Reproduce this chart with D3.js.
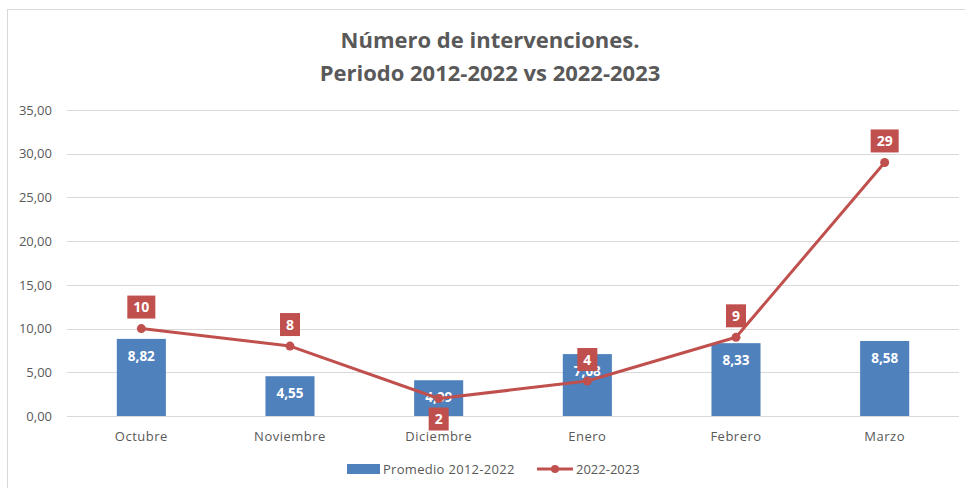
<!DOCTYPE html>
<html lang="es">
<head>
    <meta charset="UTF-8">
    <title>Número de intervenciones</title>
    <script src="https://d3js.org/d3.v7.min.js"></script>
    <style>
        body { margin: 0; background: #fff; font-family: "Open Sans", Arial, sans-serif; }
        .grid line { stroke: #d9d9d9; stroke-width: 1; }
        .axis text { fill: #595959; font-size: 13px; font-family: "Open Sans", Arial, sans-serif; }
        .title { fill: #595959; font-size: 22px; font-weight: bold; }
        .bar-label { fill: #fff; font-size: 13.5px; font-weight: bold; }
        .line-label { fill: #fff; font-size: 14px; font-weight: bold; }
        .legend text { fill: #595959; font-size: 13px; }
    </style>
</head>
<body>
<div id="chart"></div>
<script>
    // data
    const months = ["Octubre", "Noviembre", "Diciembre", "Enero", "Febrero", "Marzo"];
    const promedio = [8.82, 4.55, 4.09, 7.08, 8.33, 8.58];
    const actual = [10, 8, 2, 4, 9, 29];
    const yTicks = [0, 5, 10, 15, 20, 25, 30, 35];
    const labelSide = ["above", "above", "below", "above", "above", "above"];

    const W = 965, H = 488;
    const margin = { top: 110, right: 6, bottom: 72, left: 67 };
    const width = W - margin.left - margin.right;
    const height = H - margin.top - margin.bottom;

    const blue = "#4f81bd", red = "#c0504d";
    const comma = d3.formatLocale({ decimal: ",", thousands: ".", grouping: [3], currency: ["", "€"] });
    const fmt2 = comma.format(".2f");

    const svg = d3.select("#chart").append("svg")
        .attr("width", W)
        .attr("height", H);

    // chart frame
    svg.append("rect")
        .attr("x", 7.5).attr("y", 9.5)
        .attr("width", W + 20).attr("height", H + 20)
        .attr("fill", "none").attr("stroke", "#d9d9d9");

    // title
    const title = svg.append("text").attr("class", "title").attr("text-anchor", "middle");
    title.append("tspan").attr("x", 490).attr("y", 48).text("Número de intervenciones.");
    title.append("tspan").attr("x", 490).attr("y", 81).text("Periodo 2012-2022 vs 2022-2023");

    const g = svg.append("g").attr("transform", `translate(${margin.left},${margin.top})`);

    const x = d3.scaleBand()
        .domain(months)
        .range([0, width])
        .paddingInner(0.67)
        .paddingOuter(0.335);

    const y = d3.scaleLinear()
        .domain([0, 35])
        .range([height, 0]);

    // gridlines
    g.append("g").attr("class", "grid")
        .selectAll("line")
        .data(yTicks)
        .join("line")
        .attr("x1", 0).attr("x2", width)
        .attr("y1", d => Math.round(y(d)) + 0.5)
        .attr("y2", d => Math.round(y(d)) + 0.5);

    // y axis
    const yAxis = g.append("g").attr("class", "axis")
        .attr("transform", "translate(-15,0)")
        .call(d3.axisLeft(y).tickValues(yTicks).tickFormat(fmt2).tickSize(0).tickPadding(0));
    yAxis.select(".domain").remove();

    // x axis
    const xAxis = g.append("g").attr("class", "axis")
        .attr("transform", `translate(0,${height})`)
        .call(d3.axisBottom(x).tickSize(0).tickPadding(16));
    xAxis.select(".domain").remove();
    xAxis.selectAll("text").attr("letter-spacing", "0.5px");

    // bars
    g.selectAll("rect.bar")
        .data(promedio)
        .join("rect")
        .attr("class", "bar")
        .attr("x", (d, i) => x(months[i]))
        .attr("y", d => y(d))
        .attr("width", x.bandwidth())
        .attr("height", d => y(0) - y(d))
        .attr("fill", blue);

    g.selectAll("text.bar-label")
        .data(promedio)
        .join("text")
        .attr("class", "bar-label")
        .attr("text-anchor", "middle")
        .attr("x", (d, i) => x(months[i]) + x.bandwidth() / 2)
        .attr("y", d => y(d) + 22)
        .text(d => fmt2(d));

    // line
    const cx = i => x(months[i]) + x.bandwidth() / 2;
    const line = d3.line()
        .x((d, i) => cx(i))
        .y(d => y(d));

    g.append("path")
        .datum(actual)
        .attr("d", line)
        .attr("fill", "none")
        .attr("stroke", red)
        .attr("stroke-width", 3)
        .attr("stroke-linejoin", "round");

    g.selectAll("circle.pt")
        .data(actual)
        .join("circle")
        .attr("class", "pt")
        .attr("cx", (d, i) => cx(i))
        .attr("cy", d => y(d))
        .attr("r", 4.5)
        .attr("fill", red);

    // line data labels
    const lbl = g.selectAll("g.lbl")
        .data(actual)
        .join("g")
        .attr("class", "lbl");
    lbl.append("rect").attr("fill", red);
    lbl.append("text")
        .attr("class", "line-label")
        .attr("text-anchor", "middle")
        .text(d => d3.format(".0f")(d));
    lbl.each(function(d, i) {
        const gg = d3.select(this);
        const tw = gg.select("text").node().getComputedTextLength();
        const bw = tw + 12, bh = 23;
        const top = labelSide[i] === "above" ? y(d) - 10 - bh : y(d) + 9;
        gg.select("rect")
            .attr("x", cx(i) - bw / 2).attr("y", top)
            .attr("width", bw).attr("height", bh);
        gg.select("text")
            .attr("x", cx(i)).attr("y", top + 16.5);
    });

    // legend
    const leg = svg.append("g").attr("class", "legend");
    leg.append("rect")
        .attr("x", 347).attr("y", 464)
        .attr("width", 33).attr("height", 10)
        .attr("fill", blue);
    leg.append("text").attr("x", 383).attr("y", 474).attr("letter-spacing", "0.3px").text("Promedio 2012-2022");
    leg.append("line")
        .attr("x1", 537).attr("x2", 573)
        .attr("y1", 469).attr("y2", 469)
        .attr("stroke", red).attr("stroke-width", 3);
    leg.append("circle").attr("cx", 555).attr("cy", 469).attr("r", 4).attr("fill", red);
    leg.append("text").attr("x", 576).attr("y", 474).text("2022-2023");
</script>
</body>
</html>
